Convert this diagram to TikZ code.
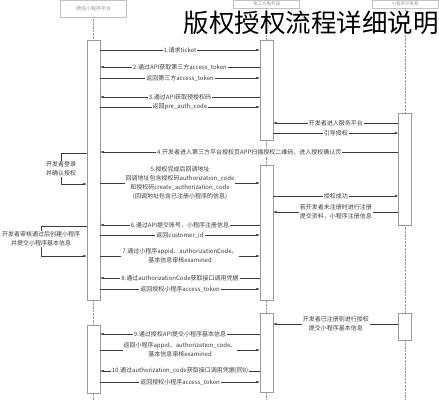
\documentclass[tikz,border=0pt]{standalone}
\usepackage{fontspec}
\setmainfont{Noto Sans CJK SC}
\usetikzlibrary{arrows.meta,positioning}
\definecolor{linegray}{HTML}{3C3C3C}
\definecolor{boxgray}{HTML}{9A9A9A}

\begin{document}
\begin{tikzpicture}[
  x=1pt, y=-1pt,
  head/.style={rectangle, draw=boxgray!60, fill=white, minimum width=66pt, minimum height=17pt, inner sep=1pt, font=\fontsize{5}{6}\selectfont, text=boxgray},
  act/.style={rectangle, draw=boxgray, fill=white, minimum width=13pt, inner sep=0pt},
  life/.style={densely dotted, draw=boxgray},
  msg/.style={-{Latex[length=3.5pt,width=2.6pt]}, line width=0.5pt, draw=linegray},
  lbl/.style={fill=white, inner sep=1pt, align=center, font=\fontsize{6}{9}\selectfont, text=linegray},
  title/.style={fill=white, inner sep=0pt, font=\fontsize{25.5}{26}\selectfont}
]
\useasboundingbox (0,0) rectangle (439,400);

% participants
\node[head] (wx) at (93.5,8.5) {微信小程序平台};
\node[head, minimum height=8pt, font=\fontsize{4.5}{5}\selectfont] (svc) at (266.5,4) {第三方服务器};
\node[head, minimum height=8pt, font=\fontsize{4.5}{5}\selectfont] (dev) at (405,4) {小程序开发者};

\coordinate (wxEnd) at (93.5,400);
\coordinate (svcEnd) at (266.5,400);
\coordinate (devEnd) at (405,400);
\draw[life] (wx) -- (wxEnd);
\draw[life] (svc) -- (svcEnd);
\draw[life] (dev) -- (devEnd);

% activations
\node[act, minimum height=260pt] (wxA) at (93.5,170) {};
\node[act, minimum height=68pt] (wxB) at (93.5,359) {};
\node[act, minimum height=100pt] (svcA) at (266.5,90) {};
\node[act, minimum height=135pt] (svcB) at (266.5,232.5) {};
\node[act, minimum height=79pt] (svcC) at (266.5,352.5) {};
\node[act, minimum height=112pt] (devA) at (405,169) {};
\node[act, minimum height=27pt] (devB) at (405,326.5) {};

\node[title] (ttl) at (311,23) {版权授权流程详细说明};

% first part
\draw[msg] (wxA.east |- 0,50) -- node[lbl] {1.请求ticket} (svcA.west |- 0,50);
\draw[msg] (svcA.west |- 0,67) -- node[lbl] {2.通过API获取第三方access\_token} (wxA.east |- 0,67);
\draw[msg] (wxA.east |- 0,78) -- node[lbl] {返回第三方access\_token} (svcA.west |- 0,78);
\draw[msg] (svcA.west |- 0,97) -- node[lbl] {3.通过API获取预授权码} (wxA.east |- 0,97);
\draw[msg] (wxA.east |- 0,107) -- node[lbl] {返回pre\_auth\_code} (svcA.west |- 0,107);
\draw[msg] (devA.west |- 0,123) -- node[lbl] {开发者进入服务平台} (svcA.east |- 0,123);
\draw[msg] (svcA.east |- 0,133) -- node[lbl] {引导授权} (devA.west |- 0,133);
\draw[msg] (devA.west |- 0,152) -- node[lbl] {4.开发者进入第三方平台授权页APP扫描授权二维码，进入授权确认页} (wxA.east |- 0,152);

\coordinate (loopA) at (61,169);
\draw[msg] (wxA.west |- 0,153) -| (loopA) |- (wxA.west |- 0,184);
\node[lbl] at (loopA) {开发者登录\\并确认授权};

\draw[msg] (wxA.east |- 0,183) -- node[lbl] {5.授权完成后回调地址\\回调地址包含授权码authorization\_code\\和授权码create\_authorization\_code\\(回调地址包含已注册小程序的信息)} (svcB.west |- 0,183);
\draw[msg] (svcB.east |- 0,196) -- node[lbl] {授权成功} (devA.west |- 0,196);
\draw[msg] (devA.west |- 0,212) -- node[lbl] {若开发者未注册时进行注册\\提交资料，小程序注册信息} (svcB.east |- 0,212);
\draw[msg] (svcB.west |- 0,225) -- node[lbl] {6.通过API提交账号，小程序注册信息} (wxA.east |- 0,225);
\draw[msg] (wxA.east |- 0,235) -- node[lbl] {返回customer\_id} (svcB.west |- 0,235);

\coordinate (loopB) at (41,239);
\draw[msg] (wxA.west |- 0,226) -| (loopB) |- (wxA.west |- 0,256);
\node[lbl] at (loopB) {开发者审核通过后创建小程序\\并提交小程序基本信息};

\draw[msg] (wxA.east |- 0,256) -- node[lbl] {7.通过小程序appid、authorizationCode、\\基本信息审核examined} (svcB.west |- 0,256);
\draw[msg] (svcB.west |- 0,278) -- node[lbl] {8.通过authorizationCode获取接口调用凭据} (wxA.east |- 0,278);
\draw[msg] (wxA.east |- 0,289) -- node[lbl] {返回授权小程序access\_token} (svcB.west |- 0,289);

% second part
\draw[msg] (devB.west |- 0,324) -- node[lbl] {开发者已注册则进行授权\\提交小程序基本信息} (svcC.east |- 0,324);
\draw[msg] (svcC.west |- 0,334) -- node[lbl] {9.通过授权API提交小程序基本信息} (wxB.east |- 0,334);
\draw[msg] (wxB.east |- 0,350) -- node[lbl] {返回小程序appid、authorization\_code、\\基本信息审核examined} (svcC.west |- 0,350);
\draw[msg] (svcC.west |- 0,371) -- node[lbl] {10.通过authorization\_code获取接口调用凭据(同8)} (wxB.east |- 0,371);
\draw[msg] (wxB.east |- 0,382) -- node[lbl] {返回授权小程序access\_token} (svcC.west |- 0,382);

\end{tikzpicture}
\end{document}
